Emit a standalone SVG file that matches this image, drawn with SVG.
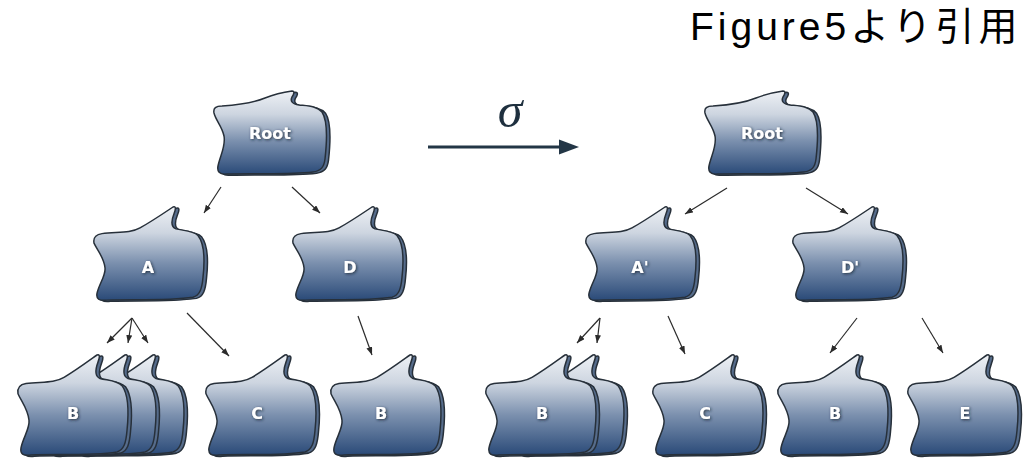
<svg xmlns="http://www.w3.org/2000/svg" xmlns:xlink="http://www.w3.org/1999/xlink" width="1026" height="472" viewBox="0 0 1026 472">
  <style>
    .body { fill: url(#blobFill); stroke: #27303a; stroke-width: 1.5; stroke-linejoin: round; vector-effect: non-scaling-stroke; }
    .back { fill: #566c8b; stroke: #27303a; stroke-width: 1.5; stroke-linejoin: round; vector-effect: non-scaling-stroke; }
    .label { font-family: "DejaVu Sans", "Liberation Sans", sans-serif; font-weight: bold; font-size: 16px; fill: #ffffff; text-anchor: middle; filter: url(#glow); }
    .edge { stroke: #2b2b2b; stroke-width: 1.2; fill: none; marker-end: url(#tip); }
  </style>
  <defs>
    <linearGradient id="blobFill" x1="0" y1="0" x2="0" y2="1">
      <stop offset="0" stop-color="#eef1f5"/>
      <stop offset="0.28" stop-color="#cdd5e0"/>
      <stop offset="0.6" stop-color="#7b90ae"/>
      <stop offset="1" stop-color="#2a4a78"/>
    </linearGradient>
    <filter id="glow" x="-50%" y="-50%" width="200%" height="200%">
      <feGaussianBlur in="SourceAlpha" stdDeviation="1.6" result="b"/>
      <feOffset in="b" dx="0.6" dy="1" result="o"/>
      <feFlood flood-color="#16222f" flood-opacity="0.85"/>
      <feComposite in2="o" operator="in" result="s"/>
      <feMerge><feMergeNode in="s"/><feMergeNode in="SourceGraphic"/></feMerge>
    </filter>
    <marker id="tip" markerUnits="userSpaceOnUse" markerWidth="9" markerHeight="7" refX="8" refY="3" orient="auto">
      <path d="M0,0 L8,3 L0,6 Z" fill="#2b2b2b"/>
    </marker>
    <!-- blob outline, tip at (80,0), height 100 -->
    <path id="blob" d="M 1,38 C 0,32 3,29 9,28 C 24,26 37,28 47,22 C 59,15 70,7 80,0 C 83,-1 83,2 81,7 C 78,15 78,21 83,23 C 91,25 100,25 105,30 C 111,38 112,55 110,74 C 109,86 107,93 100,95 C 75,99 40,97 14,98 C 6,99 3,97 4,91 C 6,81 13,72 12,64 C 11,53 4,45 1,38 Z"/>
    <!-- flatter blob for the root nodes, height 84 -->
    <path id="rootBlob" d="M 1,22 C 0,17 3,15 9,15 C 25,14 40,12 52,7 C 62,3 72,1 79,0 C 82,0 81,3 79,6 C 77,10 79,13 86,14 C 95,15 104,15 109,21 C 115,30 114,50 112,68 C 111,76 108,80 100,81 C 75,84 40,82 14,83 C 6,84 4,80 5,75 C 7,65 13,55 11,45 C 9,35 3,30 1,22 Z"/>
    <!-- one blob with its darker rim -->
    <g id="node">
      <use xlink:href="#blob" class="back" transform="translate(3.5,1.2)"/>
      <use xlink:href="#blob" class="body"/>
    </g>
    <g id="rootNode">
      <use xlink:href="#rootBlob" class="back" transform="translate(3.5,1.2)"/>
      <use xlink:href="#rootBlob" class="body"/>
    </g>
  </defs>

  <rect width="1026" height="472" fill="#ffffff"/>

  <text x="690" y="40" font-family="'Liberation Sans', 'Noto Sans CJK JP', sans-serif" font-size="39" letter-spacing="4" fill="#000000">Figure5より引用</text>

  <!-- transformation arrow -->
  <g id="sigma">
    <line x1="428" y1="147" x2="562" y2="147" stroke="#233646" stroke-width="3.2"/>
    <polygon points="559,139.5 579,147 559,154.5" fill="#233646"/>
    <text x="510" y="127" text-anchor="middle" font-family="'Liberation Serif', serif" font-style="italic" font-size="50" fill="#1e2f3e">σ</text>
  </g>

  <g id="connectors">
    <line class="edge" x1="221" y1="187" x2="204" y2="213"/>
    <line class="edge" x1="292" y1="187" x2="320" y2="213"/>
    <line class="edge" x1="132" y1="318" x2="107" y2="343"/>
    <line class="edge" x1="132" y1="318" x2="128" y2="343"/>
    <line class="edge" x1="132" y1="318" x2="148" y2="343"/>
    <line class="edge" x1="187" y1="313" x2="229" y2="356"/>
    <line class="edge" x1="358" y1="316" x2="372" y2="355"/>
    <line class="edge" x1="727" y1="188" x2="685" y2="214"/>
    <line class="edge" x1="806" y1="188" x2="848" y2="214"/>
    <line class="edge" x1="600" y1="318" x2="577" y2="343"/>
    <line class="edge" x1="600" y1="318" x2="597" y2="343"/>
    <line class="edge" x1="668" y1="316" x2="685" y2="354"/>
    <line class="edge" x1="857" y1="318" x2="830" y2="353"/>
    <line class="edge" x1="922" y1="318" x2="943" y2="353"/>
  </g>

  <!-- left tree -->
  <g id="root-left">
    <use xlink:href="#rootNode" transform="translate(213,91)"/>
    <text class="label" x="270" y="139">Root</text>
  </g>
  <g id="node-A">
    <use xlink:href="#node" transform="translate(93,207) scale(1,0.95)"/>
    <text class="label" x="148" y="273">A</text>
  </g>
  <g id="node-D">
    <use xlink:href="#node" transform="translate(292,207) scale(1,0.95)"/>
    <text class="label" x="350" y="273">D</text>
  </g>
  <g id="node-B-stack-left">
    <use xlink:href="#node" transform="translate(73,355) scale(1,1.02)"/>
    <use xlink:href="#node" transform="translate(45,355) scale(1,1.02)"/>
    <use xlink:href="#node" transform="translate(17,355) scale(1,1.02)"/>
    <text class="label" x="73" y="419">B</text>
  </g>
  <g id="node-C-left">
    <use xlink:href="#node" transform="translate(205,355) scale(1,1.02)"/>
    <text class="label" x="257" y="419">C</text>
  </g>
  <g id="node-B-left">
    <use xlink:href="#node" transform="translate(330,355) scale(1,1.02)"/>
    <text class="label" x="381" y="419">B</text>
  </g>

  <!-- right tree -->
  <g id="root-right">
    <use xlink:href="#rootNode" transform="translate(704,91)"/>
    <text class="label" x="762" y="139">Root</text>
  </g>
  <g id="node-A-prime">
    <use xlink:href="#node" transform="translate(585,207) scale(1,0.95)"/>
    <text class="label" x="640" y="273">A'</text>
  </g>
  <g id="node-D-prime">
    <use xlink:href="#node" transform="translate(792,207) scale(1,0.95)"/>
    <text class="label" x="850" y="273">D'</text>
  </g>
  <g id="node-B-stack-right">
    <use xlink:href="#node" transform="translate(513,355) scale(1,1.02)"/>
    <use xlink:href="#node" transform="translate(485,355) scale(1,1.02)"/>
    <text class="label" x="542" y="419">B</text>
  </g>
  <g id="node-C-right">
    <use xlink:href="#node" transform="translate(652,355) scale(1,1.02)"/>
    <text class="label" x="705" y="419">C</text>
  </g>
  <g id="node-B-right">
    <use xlink:href="#node" transform="translate(777,355) scale(1,1.02)"/>
    <text class="label" x="835" y="419">B</text>
  </g>
  <g id="node-E">
    <use xlink:href="#node" transform="translate(907,355) scale(1,1.02)"/>
    <text class="label" x="965" y="419">E</text>
  </g>
</svg>
